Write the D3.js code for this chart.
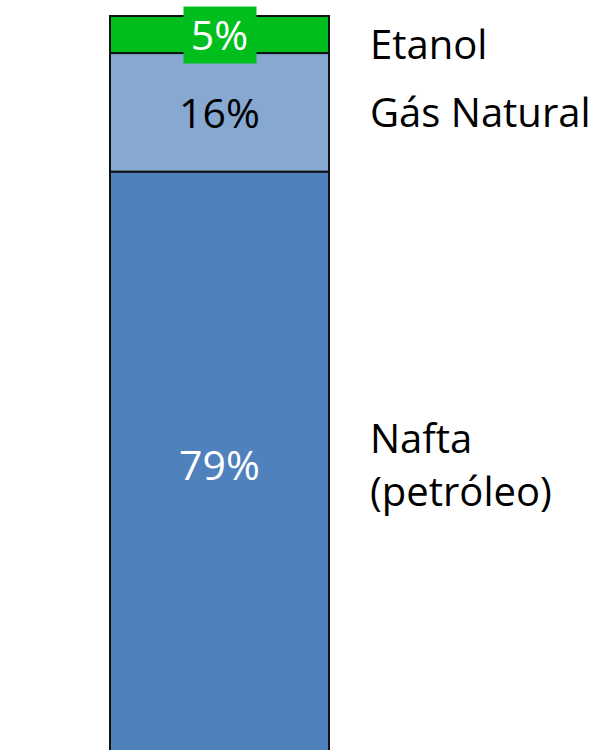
<!DOCTYPE html>
<html>
<head>
<meta charset="utf-8">
<script src="https://cdn.jsdelivr.net/npm/d3@7"></script>
<style>
  html, body { margin: 0; padding: 0; background: #ffffff; }
  svg { display: block; }
</style>
</head>
<body>
<svg id="chart" width="615" height="750"></svg>
<script>
// Data
const categories = ["Nafta (petróleo)", "Gás Natural", "Etanol"];
const shares = [79, 16, 5];
const valueLabels = ["79%", "16%", "5%"];
const legendLines = [["Nafta", "(petróleo)"], ["Gás Natural"], ["Etanol"]];
const barName = ["Matéria-prima"];

const colors = ["#4F81BD", "#87A8D0", "#00BE1E"];
const labelColors = ["#ffffff", "#000000", "#ffffff"];

const svg = d3.select("#chart");
const FONT = "'Open Sans', Lato, sans-serif";

const x = d3.scaleBand().domain(barName).range([110, 329]).padding(0);
const y = d3.scaleLinear().domain([0, 100]).range([757, 16]);

// stack
let acc = 0;
const segs = shares.map((v, i) => {
  const s = { cat: categories[i], v, y0: acc, y1: acc + v, i };
  acc += v;
  return s;
});

const g = svg.append("g");

g.selectAll("rect.seg").data(segs).join("rect")
  .attr("class", "seg")
  .attr("x", x(barName[0]))
  .attr("width", x.bandwidth())
  .attr("y", d => y(d.y1))
  .attr("height", d => y(d.y0) - y(d.y1))
  .attr("fill", d => colors[d.i])
  .attr("stroke", "#111")
  .attr("stroke-width", 2);

// value labels
const cx = x(barName[0]) + x.bandwidth() / 2;
const labels = g.selectAll("g.vl").data(segs).join("g").attr("class", "vl");

labels.each(function(d) {
  const gg = d3.select(this);
  const mid = (y(d.y0) + y(d.y1)) / 2;
  gg.append("text")
    .attr("x", cx)
    .attr("y", mid + 15.5)
    .attr("text-anchor", "middle")
    .attr("font-family", FONT)
    .attr("font-size", 41)
    .attr("fill", labelColors[d.i])
    .text(valueLabels[d.i]);
  if (d.i === 2) {
    gg.insert("rect", "text")
      .attr("x", cx - 36)
      .attr("width", 73)
      .attr("y", mid - 28)
      .attr("height", 57)
      .attr("fill", colors[d.i]);
  }
});

// legend labels to the right
const legend = g.selectAll("text.lg").data(segs).join("text")
  .attr("class", "lg")
  .attr("x", 370)
  .attr("font-family", FONT)
  .attr("font-size", 40)
  .attr("fill", "#000");

legend.each(function(d) {
  const lines = legendLines[d.i];
  const mid = (y(d.y0) + y(d.y1)) / 2;
  const lh = 53;
  const t = d3.select(this);
  lines.forEach((ln, k) => {
    const base = Math.max(59, mid + 15 + (k - (lines.length - 1) / 2) * lh);
    t.append("tspan")
      .attr("x", 370)
      .attr("y", base)
      .text(ln);
  });
});
</script>
</body>
</html>
